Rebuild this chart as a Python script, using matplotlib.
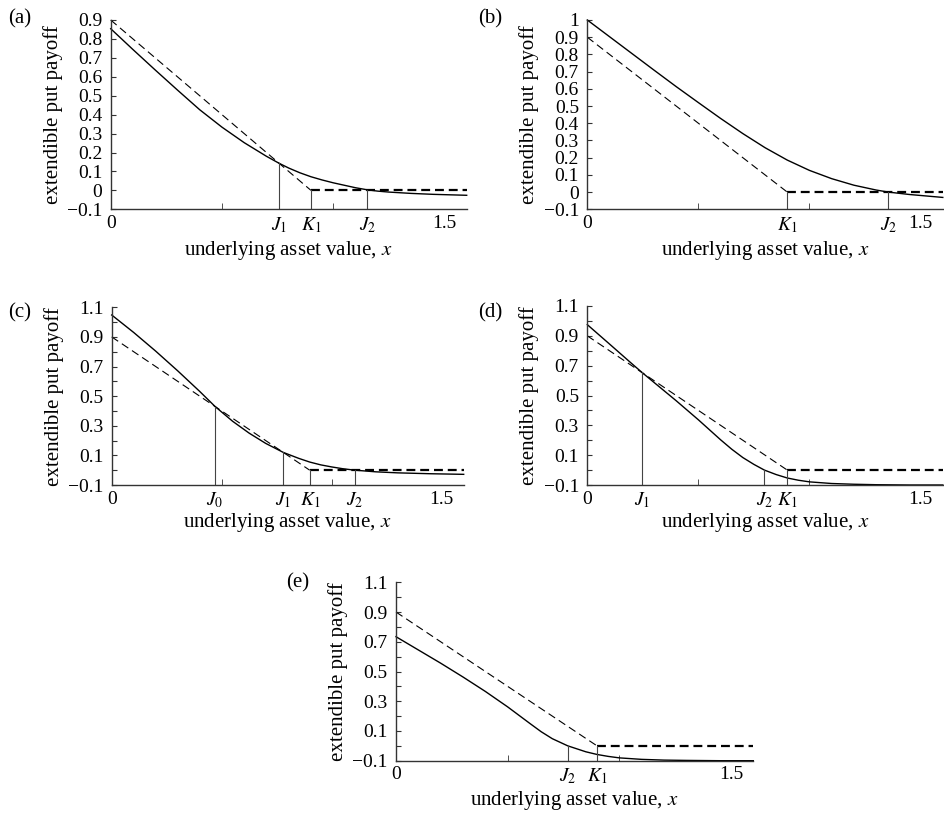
import matplotlib
matplotlib.use("Agg")
import matplotlib.pyplot as plt

plt.rcParams['font.family'] = ['Liberation Serif', 'DejaVu Serif']
plt.rcParams['mathtext.fontset'] = 'stix'

W, H = 945, 817
X_END = 1.6

# intrinsic payoff of the put, strike K1 = 0.9 (dashed line)
payoff_x = [0.0, 0.9]
payoff_y = [0.9, 0.0]
flat_x = [0.9, X_END]
flat_y = [0.0, 0.0]

# extendible put value (solid line)
xa = [0, 0.1, 0.2, 0.3, 0.4, 0.5, 0.6, 0.7, 0.757, 0.8, 0.85, 0.9, 0.95, 1.0,
      1.05, 1.1, 1.153, 1.2, 1.25, 1.35, 1.45, 1.6]
ya = [0.854, 0.744, 0.636, 0.530, 0.426, 0.334, 0.252, 0.180, 0.143, 0.118,
      0.093, 0.072, 0.055, 0.040, 0.027, 0.014, 0.003, -0.004, -0.009, -0.016,
      -0.021, -0.026]

xb = [0, 0.1, 0.2, 0.3, 0.4, 0.5, 0.6, 0.7, 0.8, 0.9, 1.0, 1.1, 1.2, 1.3,
      1.355, 1.45, 1.6]
yb = [1.0, 0.903, 0.806, 0.709, 0.613, 0.52, 0.428, 0.34, 0.258, 0.186,
      0.126, 0.078, 0.04, 0.012, 0.0, -0.014, -0.031]

xc = [0, 0.1, 0.2, 0.3, 0.4, 0.47, 0.55, 0.625, 0.7, 0.78, 0.85, 0.9, 0.95,
      1.0, 1.05, 1.106, 1.2, 1.3, 1.45, 1.6]
yc = [1.048, 0.930, 0.804, 0.671, 0.532, 0.430, 0.330, 0.250, 0.181, 0.120,
      0.080, 0.055, 0.036, 0.022, 0.010, 0.0, -0.011, -0.018, -0.024, -0.028]

xd = [0, 0.1, 0.2, 0.245, 0.3, 0.4, 0.5, 0.6, 0.65, 0.7, 0.75, 0.797, 0.85,
      0.9, 0.95, 1.0, 1.1, 1.2, 1.3, 1.45, 1.6]
yd = [0.975, 0.845, 0.714, 0.656, 0.588, 0.465, 0.337, 0.203, 0.14, 0.084,
      0.038, 0.0, -0.03, -0.053, -0.068, -0.079, -0.09, -0.095, -0.098, -0.1,
      -0.1]

xe = [0, 0.1, 0.2, 0.3, 0.4, 0.5, 0.6, 0.65, 0.7, 0.769, 0.85, 0.9, 0.95,
      1.0, 1.1, 1.2, 1.3, 1.45, 1.6]
ye = [0.734, 0.645, 0.556, 0.463, 0.366, 0.262, 0.150, 0.095, 0.048, 0.0,
      -0.04, -0.058, -0.071, -0.081, -0.091, -0.096, -0.098, -0.1, -0.1]

# critical points marked on the x axis: label, position, height of the drop line
marks_a = (['$J_1$', '$K_1$', '$J_2$'], [0.757, 0.9, 1.153], [0.143, 0.0, 0.0])
marks_b = (['$K_1$', '$J_2$'], [0.9, 1.355], [0.0, 0.0])
marks_c = (['$J_0$', '$J_1$', '$K_1$', '$J_2$'], [0.47, 0.78, 0.9, 1.106],
           [0.43, 0.12, 0.0, 0.0])
marks_d = (['$J_1$', '$J_2$', '$K_1$'], [0.245, 0.797, 0.9], [0.656, 0.0, 0.0])
marks_e = (['$J_2$', '$K_1$'], [0.769, 0.9], [0.0, 0.0])

# y ticks
yt_a = [-0.1, 0, 0.1, 0.2, 0.3, 0.4, 0.5, 0.6, 0.7, 0.8, 0.9]
yl_a = ['\u22120.1', '0', '0.1', '0.2', '0.3', '0.4', '0.5', '0.6', '0.7', '0.8', '0.9']
yt_b = yt_a + [1.0]
yl_b = yl_a + ['1']
yt_c = [-0.1, 0, 0.1, 0.2, 0.3, 0.4, 0.5, 0.6, 0.7, 0.8, 0.9, 1.0, 1.1]
yl_c = ['\u22120.1', '', '0.1', '', '0.3', '', '0.5', '', '0.7', '', '0.9', '', '1.1']


def panel(box, tag, tag_xy, xs, ys, marks, yticks, ylabels, ylim, xlab_off):
    left, top, right, bottom = box
    ax = fig.add_axes([left / W, 1 - bottom / H, (right - left) / W, (bottom - top) / H])
    ax.set_xlim(0, X_END)
    ax.set_ylim(*ylim)
    for s in ['top', 'right']:
        ax.spines[s].set_visible(False)
    for s in ['left', 'bottom']:
        ax.spines[s].set_color('#333333')
        ax.spines[s].set_linewidth(1.0)

    ax.plot(payoff_x, payoff_y, color='black', lw=0.8, dashes=(7, 4), clip_on=False)
    ax.plot(flat_x, flat_y, color='black', lw=1.6, dashes=(4, 2.2), clip_on=False)
    ax.plot(xs, ys, color='black', lw=1.0, clip_on=False)

    names, pos, tops = marks
    for p, t in zip(pos, tops):
        ax.plot([p, p], [ylim[0], t], color='#444444', lw=0.8)

    ax.set_xticks([0] + pos + [1.5])
    ax.set_xticklabels(['0'] + names + ['1.5'])
    ax.tick_params(axis='x', which='major', length=0, pad=4, labelsize=14)
    ax.set_xticks([0.5, 1.0, 1.5], minor=True)
    ax.tick_params(axis='x', which='minor', direction='in', length=4, color='#333333')

    ax.set_yticks(yticks)
    ax.set_yticklabels(ylabels)
    ax.tick_params(axis='y', direction='in', length=3.5, pad=6, labelsize=14,
                   color='#333333')

    ax.set_ylabel('extendible put payoff', fontsize=15, va='center')
    ax.yaxis.set_label_coords(-58 / (right - left), 0.5)
    ax.set_xlabel('underlying asset value, $x$', fontsize=15, va='center')
    ax.xaxis.set_label_coords(0.5, -xlab_off / (bottom - top))

    fig.text(tag_xy[0] / W, 1 - tag_xy[1] / H, tag, fontsize=15, ha='center', va='center')
    return ax


fig = plt.figure(figsize=(W / 100, H / 100), dpi=100)

panel((110.7, 20, 466.7, 209.3), '(a)', (20, 19), xa, ya, marks_a, yt_a, yl_a, (-0.1, 0.9), 41)
panel((587.3, 20, 942.8, 209.3), '(b)', (490, 19), xb, yb, marks_b, yt_b, yl_b, (-0.1, 1.0), 41)
panel((111.7, 307.3, 463.7, 485), '(c)', (20, 313), xc, yc, marks_c, yt_c, yl_c, (-0.1, 1.1), 38)
panel((587.3, 306, 942.8, 485), '(d)', (490, 313), xd, yd, marks_d, yt_c, yl_c, (-0.1, 1.1), 38)
panel((396, 582.3, 753.3, 760.7), '(e)', (298, 583), xe, ye, marks_e, yt_c, yl_c, (-0.1, 1.1), 40)

fig.savefig('out.png', dpi=100)
